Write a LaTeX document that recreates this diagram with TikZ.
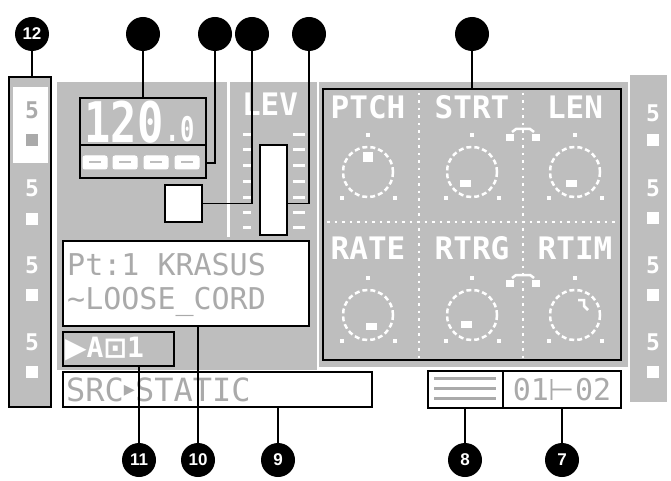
\documentclass[tikz,border=0pt]{standalone}
\usepackage{fontspec}
\setmainfont{Liberation Sans}
\newfontfamily\lcdfont{DejaVu Sans Mono}
\newfontfamily\symfont{DejaVu Sans}
\usepackage{graphicx}
\usepackage{tikz}
\definecolor{lcdgray}{RGB}{190,190,190}
\definecolor{inkgray}{RGB}{170,170,170}

\begin{document}
\begin{tikzpicture}[x=1pt,y=-1pt]
	\tikzstyle{num}  = [circle,fill=black,minimum size=34,inner sep=0,text=white,font=\bfseries\fontsize{17}{17}\selectfont]
	\tikzstyle{box}  = [draw,line width=1.8,inner sep=0,outer sep=0]
	\tikzstyle{wire} = [line width=1.3]
	\tikzstyle{lcd}  = [text=white,inner sep=0,font=\lcdfont\bfseries\fontsize{31}{31}\selectfont]
	\tikzstyle{ink}  = [text=inkgray,inner sep=0,font=\lcdfont\fontsize{30}{30}\selectfont]
	\tikzstyle{knob} = [draw=white,line width=2.5,dash pattern=on 5 off 3]
	\tikzstyle{dots} = [white,line width=2.5,dash pattern=on 2.5 off 5]
	
	\useasboundingbox (0,0) rectangle (671,481);
	
	% screen
	\fill[lcdgray] (57,82) rectangle (317,370);
	\fill[lcdgray] (319,82) rectangle (628,367);
	\fill[lcdgray] (630,75) rectangle (667,402);
	\fill[white] (227,82) rectangle (230,237);
	
	% bank strips
	\node[box,fill=lcdgray,minimum width=42,minimum height=330] (banks) at (30,242) {};
	\fill[white] (13,87) rectangle (48,163);
	\foreach \y/\s/\c in {110/140/inkgray,188/219/white,265/295/white,342/372/white} {
		\node[lcd,text=\c,font=\lcdfont\bfseries\fontsize{23}{23}\selectfont] at (32,\y) {5};
		\fill[\c] (26,\s-6) rectangle (38,\s+6);
	}
	\foreach \y/\s in {113/140,188/218,265/295,342/372} {
		\node[lcd,font=\lcdfont\bfseries\fontsize{23}{23}\selectfont] at (653,\y) {5};
		\fill[white] (647,\s-6) rectangle (659,\s+6);
	}
	
	% tempo
	\node[box,minimum width=126,minimum height=80] (bpm) at (143,138) {};
	\draw[line width=1.8] (80,145) -- (206,145);
	\node[lcd,font=\lcdfont\bfseries\fontsize{56}{56}\selectfont] (tempo) at (124,122) {\scalebox{0.78}[1]{120}};
	\node[lcd,font=\lcdfont\bfseries\fontsize{34}{34}\selectfont] at (180,129) {\scalebox{0.7}[1]{.0}};
	\foreach \x in {95,125,156,187} {
		\draw[white,fill=white,rounded corners=2,line width=1] (\x-12,156) rectangle (\x+12,169);
		\draw[lcdgray,line width=2] (\x-6,162.5) -- (\x+6,162.5);
	}
	
	% trig and level
	\node[box,line width=2.2,fill=white,minimum width=37,minimum height=37] (trig) at (183.5,203.5) {};
	\node[box,fill=white,minimum width=27,minimum height=90] (level) at (273.5,190) {};
	\node[lcd] (lev) at (270,104) {LEV};
	\foreach \y in {135,150,166,181,197,212,227} {
		\fill[white] (243,\y-1.5) rectangle (251,\y+1.5);
		\fill[white] (293,\y-1.5) rectangle (305,\y+1.5);
	}
	
	% parameter page
	\node[box,line width=2.4,minimum width=298,minimum height=271] (params) at (472,224.5) {};
	\draw[dots] (419,93) -- (419,358);
	\draw[dots] (523,93) -- (523,358);
	\draw[dots] (327,222) -- (619,222);
	\foreach \lab/\x/\y in {PTCH/368/107,STRT/472/107,LEN/575/107,RATE/368/248,RTRG/472/248,RTIM/575/248}
		\node[lcd] at (\x,\y) {\lab};
	\foreach \x/\y in {368/172,472/172,575/172,368/315,472/315,575/315} {
		\draw[knob] (\x,\y) circle (25);
		\fill[white] (\x-2,\y-39) rectangle (\x+2,\y-35);
		\fill[white] (\x-28,\y+24) rectangle (\x-24,\y+28);
		\fill[white] (\x+25,\y+24) rectangle (\x+29,\y+28);
	}
	\fill[white] (363,152) rectangle (373,162);
	\fill[white] (460,180) rectangle (471,187);
	\fill[white] (566,180) rectangle (577,187);
	\fill[white] (366,323) rectangle (377,330);
	\fill[white] (461,321) rectangle (472,328);
	\draw[white,line width=2.5] (578,300) -- (584,300) -- (584,306) -- (588,310);
	\foreach \y in {137,283} {
		\fill[white] (506,\y-3) rectangle (514,\y+4);
		\fill[white] (532,\y-3) rectangle (540,\y+4);
		\draw[white,line width=2.5] (512,\y-5) -- (516,\y-8) -- (530,\y-8) -- (534,\y-5);
	}
	
	% part name
	\node[box,fill=white,minimum width=246,minimum height=85] (name) at (186,283.5) {};
	\node[ink,anchor=west] at (67,265) {Pt:1 KRASUS};
	\node[ink,anchor=west] at (67,302) {\textasciitilde LOOSE\_CORD};
	
	% play mode
	\node[box,fill=lcdgray,minimum width=111,minimum height=34] (mode) at (118.5,349) {};
	\node[lcd,anchor=west,font=\lcdfont\bfseries\fontsize{28}{28}\selectfont] at (65,349) {{\symfont ▶}A{\symfont ⊡}1};
	
	% source
	\node[box,fill=white,minimum width=309,minimum height=35] (src) at (217.5,389.5) {};
	\node[ink,anchor=west,font=\lcdfont\fontsize{32}{32}\selectfont] at (66,390) {SRC\raisebox{5pt}{\symfont\fontsize{22}{22}\selectfont ▸}STATIC};
	
	% scale and pattern
	\node[box,fill=white,minimum width=75,minimum height=37] (scale) at (465.5,389.5) {};
	\node[box,fill=white,minimum width=118,minimum height=37] (pattern) at (562,389.5) {};
	\foreach \y in {378,388,398}
		\draw[inkgray,line width=3] (434,\y) -- (496,\y);
	\node[ink] at (562,390) {01{\symfont ⊢}02};
	
	% callouts
	\node[num] (n12) at (32,34) {12};
	\node[num] (ntempo) at (143,34) {};
	\node[num] (nswing) at (215,34) {};
	\node[num] (ntrig) at (252,34) {};
	\node[num] (nlev) at (309,34) {};
	\node[num] (nparams) at (472,34) {};
	\node[num] (n11) at (139,460) {11};
	\node[num] (n10) at (198,460) {10};
	\node[num] (n9) at (278,460) {9};
	\node[num] (n8) at (465,460) {8};
	\node[num] (n7) at (562,460) {7};
	
	\coordinate (cells) at (206,163);
	
	\draw[wire] (n12) -- (n12 |- banks.north);
	\draw[wire] (ntempo) -- (ntempo |- bpm.north);
	\draw[wire] (nswing) |- (cells);
	\draw[wire] (ntrig) |- (trig.east);
	\draw[wire] (nlev) |- (level.east |- trig.east);
	\draw[wire] (nparams) -- (nparams |- params.north);
	\draw[wire] (n11) -- (n11 |- mode.south);
	\draw[wire] (n10) -- (n10 |- name.south);
	\draw[wire] (n9) -- (n9 |- src.south);
	\draw[wire] (n8) -- (n8 |- scale.south);
	\draw[wire] (n7) -- (pattern.south);
\end{tikzpicture}
\end{document}
